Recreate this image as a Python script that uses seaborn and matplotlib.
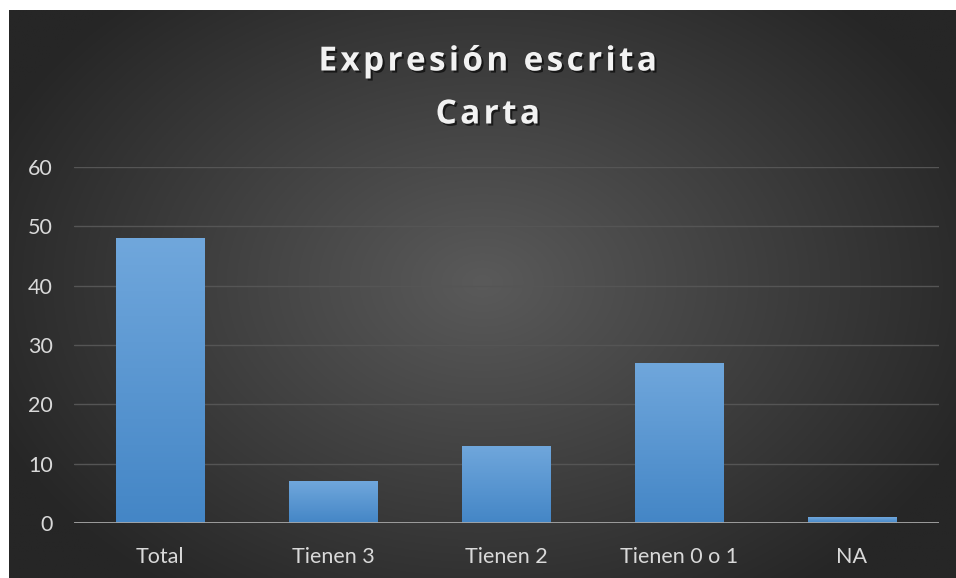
import numpy as np
import pandas as pd
import matplotlib
matplotlib.use("Agg")
import matplotlib.pyplot as plt
import matplotlib.patheffects as pe
import seaborn as sns

categorias = ["Total", "Tienen 3", "Tienen 2", "Tienen 0 o 1", "NA"]
valores = [48, 7, 13, 27, 1]
y_ticks = [0, 10, 20, 30, 40, 50, 60]
titulo_lineas = ["Expresión escrita", "Carta"]

sns.set_style("white")
plt.rcParams['font.family'] = ['Lato', 'DejaVu Sans']

df = pd.DataFrame({"cat": categorias, "val": valores})

fig = plt.figure(figsize=(9.56, 5.78), dpi=100)
fig.patch.set_facecolor("white")

# fondo oscuro con degradado radial
bg = fig.add_axes([9 / 956, 0, 947 / 956, 568 / 578])
bg.set_axis_off()
yy, xx = np.mgrid[0:1:300j, 0:1:500j]
r = np.sqrt(((xx - 0.5) / 0.75) ** 2 + ((yy - 0.52) / 0.9) ** 2)
r = np.clip(r / 0.75, 0, 1)
c_in = np.array([0x5a, 0x5a, 0x5a]) / 255
c_out = np.array([0x26, 0x26, 0x26]) / 255
img = c_in[None, None, :] * (1 - r[..., None]) + c_out[None, None, :] * r[..., None]
bg.imshow(img, aspect="auto", extent=[0, 1, 0, 1], origin="lower")
bg.set_xlim(0, 1)
bg.set_ylim(0, 1)

ax = fig.add_axes([73.5 / 956, 55 / 578, 865 / 956, 356 / 578])
ax.patch.set_alpha(0)

sns.barplot(data=df, x="cat", y="val", color="#5b9bd5", width=0.51,
            saturation=1, linewidth=0, ax=ax, zorder=3)

ax.set_ylim(0, 60)
ax.set_yticks(y_ticks)
ax.yaxis.grid(True, color="#555555", linewidth=1.0, zorder=0)
ax.set_axisbelow(True)
for s in ax.spines.values():
    s.set_visible(False)
ax.axhline(0, color="#a6a6a6", linewidth=2, zorder=4)

# degradado vertical en las barras
grad = np.linspace(0, 1, 100)[:, None]
top = np.array([0x70, 0xa7, 0xdc]) / 255
bot = np.array([0x44, 0x86, 0xc6]) / 255
gimg = bot[None, None, :] * (1 - grad[..., None]) + top[None, None, :] * grad[..., None]
gimg = np.repeat(gimg, 2, axis=1)
for p in ax.patches:
    x0, y0 = p.get_x(), p.get_y()
    w, h = p.get_width(), p.get_height()
    im = ax.imshow(gimg, extent=[x0, x0 + w, y0, y0 + h], origin="lower",
                   aspect="auto", zorder=3.5)
    im.set_clip_path(p)
ax.set_xlim(-0.5, len(categorias) - 0.5)
ax.set_ylim(0, 60)

ax.set_xlabel("")
ax.set_ylabel("")
ax.tick_params(axis="both", length=0, labelsize=15.5, colors="#d9d9d9")
ax.tick_params(axis="x", pad=17)
ax.tick_params(axis="y", pad=15)

# titulo con espaciado entre letras (hair space)
sombra = [pe.withSimplePatchShadow(offset=(1.5, -1.5), shadow_rgbFace="black", alpha=0.6)]
for linea, ypix in zip(titulo_lineas, [62, 115]):
    espaciado = "\u200a".join(linea)
    fig.text(488 / 956, 1 - ypix / 578, espaciado, ha="center", va="center",
             fontsize=24, fontweight="bold", color="#f2f2f2",
             family=["Open Sans", "DejaVu Sans"], path_effects=sombra)

fig.savefig("out.png", dpi=100)
